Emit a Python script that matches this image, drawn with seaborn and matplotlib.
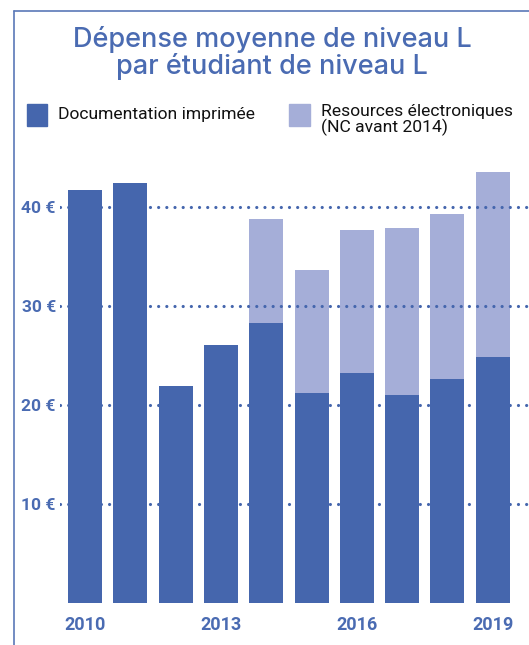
import numpy as np
import pandas as pd
import matplotlib
matplotlib.use("Agg")
import matplotlib.pyplot as plt
import seaborn as sns
from matplotlib.patches import Rectangle
from matplotlib.lines import Line2D

years = ["2010", "2011", "2012", "2013", "2014", "2015", "2016", "2017", "2018", "2019"]
imprimee = [41.8, 42.5, 21.9, 26.1, 28.3, 21.2, 23.3, 21.0, 22.7, 24.9]
electronique = [np.nan, np.nan, np.nan, np.nan, 10.5, 12.5, 14.4, 16.9, 16.6, 18.7]
shown_years = ["2010", "2013", "2016", "2019"]
y_ticks = [10, 20, 30, 40]

dark = "#4566ad"
light = "#a5aed8"
blue_txt = "#4a6bb2"

df = pd.DataFrame({"annee": years, "imprimee": imprimee, "electronique": electronique})
df["total"] = df["imprimee"] + df["electronique"].fillna(0)

sns.set_theme(style="white")
plt.rcParams["font.family"] = ["Roboto", "DejaVu Sans"]

fig = plt.figure(figsize=(5.29, 6.45), dpi=100)
ax = fig.add_axes([60 / 529, 42 / 645, 1 - 60 / 529, 440 / 645])

# stacked: total in light, printed part on top in dark
sns.barplot(data=df, x="annee", y="total", order=years, color=light,
            width=0.75, saturation=1, linewidth=0, ax=ax, zorder=1)
sns.barplot(data=df, x="annee", y="imprimee", order=years, color=dark,
            width=0.75, saturation=1, linewidth=0, ax=ax, zorder=3)

for v in y_ticks:
    ax.axhline(v, color=dark, lw=2.3, linestyle=(0, (0.01, 2.55)),
               dash_capstyle="round", zorder=2)

ax.set_xlim(-0.552, 9.8)
ax.set_ylim(0, 44.5)
ax.set_xlabel("")
ax.set_ylabel("")
for s in ax.spines.values():
    s.set_visible(False)

ax.set_yticks(y_ticks)
ax.set_yticklabels([f"{v} €" for v in y_ticks])
ax.set_xticks(range(len(years)))
ax.set_xticklabels([y if y in shown_years else "" for y in years])
ax.tick_params(axis="y", length=0, pad=3, labelsize=12.5, labelcolor=blue_txt)
ax.tick_params(axis="x", length=0, pad=9, labelsize=13, labelcolor=blue_txt)
for lab in ax.get_xticklabels() + ax.get_yticklabels():
    lab.set_fontweight("semibold")

# frame
fig.add_artist(Line2D([14 / 529, 14 / 529], [0, 1 - 11 / 645], color="#5a78b8", lw=1.2))
fig.add_artist(Line2D([14 / 529, 1], [1 - 11 / 645, 1 - 11 / 645], color="#5a78b8", lw=1.2))

# title
fig.text(272 / 529, 1 - 53 / 645, "Dépense moyenne de niveau L\npar étudiant de niveau L",
         ha="center", va="center", fontsize=19.5, fontweight="medium",
         color=blue_txt, family=["Inter", "DejaVu Sans"], linespacing=1.0)

# legend
fig.add_artist(Rectangle((27 / 529, 1 - 126 / 645), 20 / 529, 22 / 645,
                         color=dark, transform=fig.transFigure))
fig.add_artist(Rectangle((289 / 529, 1 - 126 / 645), 21 / 529, 22 / 645,
                         color=light, transform=fig.transFigure))
leg_font = ["Roboto", "DejaVu Sans"]
fig.text(58 / 529, 1 - 115 / 645, "Documentation imprimée", ha="left", va="center",
         fontsize=12.6, color="#111111", family=leg_font)
fig.text(321 / 529, 1 - 104 / 645, "Resources électroniques\n(NC avant 2014)",
         ha="left", va="top", fontsize=12.6, color="#111111", family=leg_font,
         linespacing=0.95)

fig.savefig("out.png", dpi=100)
